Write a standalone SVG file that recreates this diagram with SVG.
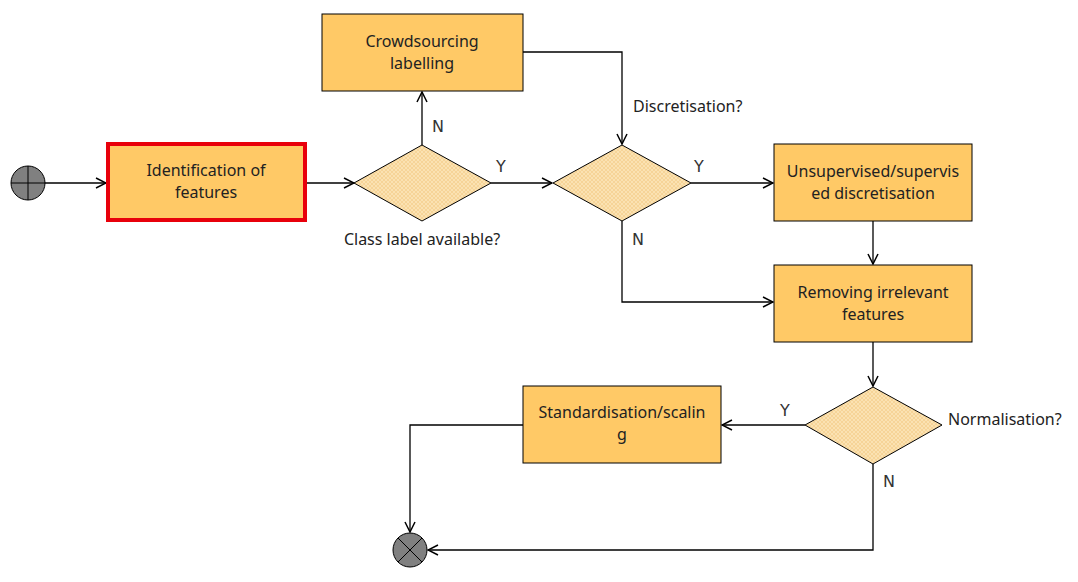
<svg xmlns="http://www.w3.org/2000/svg" width="1078" height="582" viewBox="0 0 1078 582">
<defs>
<pattern id="hatch" width="4" height="4" patternUnits="userSpaceOnUse">
<rect width="4" height="4" fill="#FBE2B2"/>
<path d="M0,0 L4,4 M4,0 L0,4" stroke="#F3CF8C" stroke-width="0.7"/>
</pattern>
<marker id="arr" viewBox="0 0 12 12" refX="11" refY="6" markerWidth="12" markerHeight="12" markerUnits="userSpaceOnUse" orient="auto">
<path d="M1,1 L11,6 L1,11" fill="none" stroke="#000" stroke-width="1.5"/>
</marker>
<style>
.box{fill:#FFC966;stroke:#000;stroke-width:1}
.dia{fill:url(#hatch);stroke:#000;stroke-width:1}
.t{font-family:"Noto Sans","DejaVu Sans",sans-serif;font-size:16px;fill:#222;text-anchor:middle}
.l{font-family:"DejaVu Sans",sans-serif;font-size:16px;fill:#333}
.c{fill:none;stroke:#000;stroke-width:1.3}
.ca{fill:none;stroke:#000;stroke-width:1.3;marker-end:url(#arr)}
</style>
</defs>
<rect width="1078" height="582" fill="#fff"/>
<g id="connectors">
<line class="ca" x1="45" y1="183" x2="106" y2="183"/>
<line class="ca" x1="307" y1="183" x2="354" y2="183"/>
<line class="ca" x1="422" y1="145" x2="422" y2="92"/>
<line class="ca" x1="491" y1="183" x2="552" y2="183"/>
<polyline class="ca" points="523,52 622,52 622,144"/>
<line class="ca" x1="691" y1="183" x2="773" y2="183"/>
<line class="ca" x1="873" y1="221" x2="873" y2="264"/>
<polyline class="ca" points="622,221 622,302 773,302"/>
<line class="ca" x1="873" y1="342" x2="873" y2="386"/>
<line class="ca" x1="805" y1="425" x2="722" y2="425"/>
<polyline class="ca" points="523,425 410,425 410,532"/>
<polyline class="ca" points="873,464 873,550 428,550"/>
<text class="l" x="432" y="132">N</text>
<text class="l" x="496" y="172">Y</text>
<text class="l" x="694" y="172">Y</text>
<text class="l" x="632" y="245">N</text>
<text class="l" x="780" y="416">Y</text>
<text class="l" x="883" y="487">N</text>
<text class="t" x="633" y="112" style="text-anchor:start">Discretisation?</text>
<text class="t" x="422" y="245">Class label available?</text>
<text class="t" x="948" y="425" style="text-anchor:start">Normalisation?</text>
</g>
<g id="start">
<circle cx="28" cy="183" r="17" fill="#808080" stroke="#000" stroke-width="1"/>
<path d="M11,183 H45 M28,166 V200" stroke="#000" stroke-width="1"/>
</g>
<g id="identification">
<rect x="108" y="144" width="197" height="76" fill="#FFC966" stroke="#E8000B" stroke-width="4"/>
<text class="t" x="206" y="176">Identification of</text>
<text class="t" x="206" y="198">features</text>
</g>
<g id="crowdsourcing">
<rect class="box" x="322" y="14" width="201" height="77"/>
<text class="t" x="422" y="47">Crowdsourcing</text>
<text class="t" x="422" y="69">labelling</text>
</g>
<g id="decision-class">
<polygon class="dia" points="422,145 491,183 422,221 354,183"/>
</g>
<g id="decision-discretisation">
<polygon class="dia" points="622,145 691,183 622,221 553,183"/>
</g>
<g id="discretisation">
<rect class="box" x="774" y="144" width="198" height="77"/>
<text class="t" x="873" y="177">Unsupervised/supervis</text>
<text class="t" x="873" y="199">ed discretisation</text>
</g>
<g id="removing">
<rect class="box" x="774" y="265" width="198" height="77"/>
<text class="t" x="873" y="298">Removing irrelevant</text>
<text class="t" x="873" y="320">features</text>
</g>
<g id="decision-normalisation">
<polygon class="dia" points="873,387 942,425 873,464 805,425"/>
</g>
<g id="standardisation">
<rect class="box" x="523" y="386" width="198" height="77"/>
<text class="t" x="622" y="418">Standardisation/scalin</text>
<text class="t" x="622" y="440">g</text>
</g>
<g id="end">
<circle cx="410" cy="550" r="17" fill="#808080" stroke="#000" stroke-width="1"/>
<path d="M398,538 L422,562 M422,538 L398,562" stroke="#000" stroke-width="1"/>
</g>
</svg>
